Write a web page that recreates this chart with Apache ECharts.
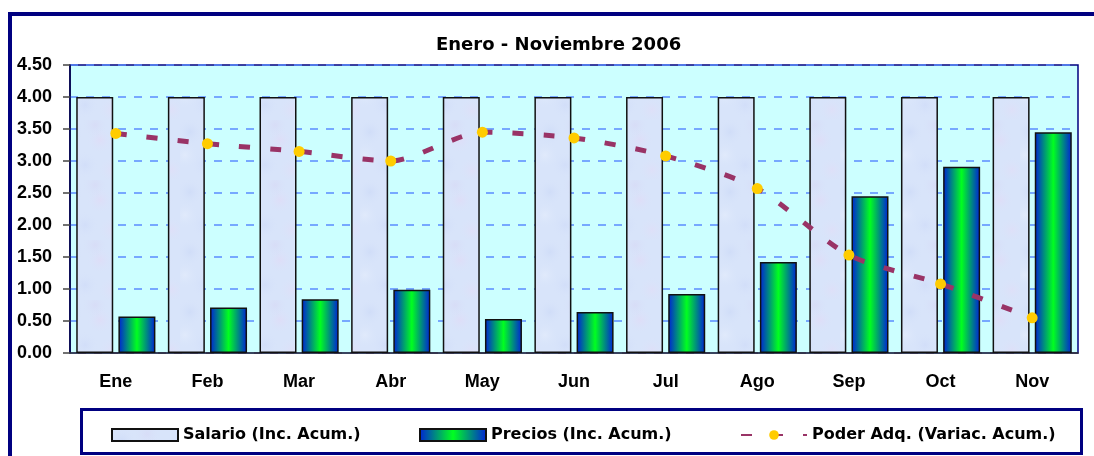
<!DOCTYPE html>
<html>
<head>
<meta charset="utf-8">
<script src="https://cdn.jsdelivr.net/npm/echarts@6/dist/echarts.min.js"></script>
<style>
  html, body { margin: 0; padding: 0; background: #fff; }
  #main { width: 1094px; height: 456px; }
</style>
</head>
<body>
<div id="main"></div>
<script>
var months = ['Ene', 'Feb', 'Mar', 'Abr', 'May', 'Jun', 'Jul', 'Ago', 'Sep', 'Oct', 'Nov'];
var salario = [4.00, 4.00, 4.00, 4.00, 4.00, 4.00, 4.00, 4.00, 4.00, 4.00, 4.00];
var precios = [0.57, 0.71, 0.84, 0.99, 0.53, 0.64, 0.92, 1.42, 2.45, 2.91, 3.45];
var poder = [3.43, 3.27, 3.15, 3.00, 3.45, 3.36, 3.08, 2.57, 1.53, 1.08, 0.55];

// textura clara para las barras de salario
var tex = document.createElement('canvas');
tex.width = 60; tex.height = 60;
var g = tex.getContext('2d');
g.fillStyle = '#D8E4FA';
g.fillRect(0, 0, 60, 60);
var blobs = [[10, 12, 'rgba(200,214,246,0.5)'], [40, 20, 'rgba(226,218,246,0.6)'],
             [25, 45, 'rgba(204,216,248,0.5)'], [52, 50, 'rgba(228,220,246,0.5)'],
             [5, 35, 'rgba(230,238,252,0.6)'], [35, 5, 'rgba(214,210,242,0.4)']];
blobs.forEach(function (b) {
  var rg = g.createRadialGradient(b[0], b[1], 0, b[0], b[1], 14);
  rg.addColorStop(0, b[2]);
  rg.addColorStop(1, 'rgba(216,228,250,0)');
  g.fillStyle = rg;
  g.fillRect(0, 0, 60, 60);
});

var preciosColor = new echarts.graphic.LinearGradient(0, 0, 1, 0, [
  {offset: 0, color: '#0020D8'},
  {offset: 0.5, color: '#00FF20'},
  {offset: 1, color: '#0020D8'}
]);

var axisFont = {fontFamily: 'Liberation Sans', fontWeight: 'bold', fontSize: 18, color: '#000'};
var legendText = {fontFamily: 'DejaVu Sans', fontWeight: 'bold', fontSize: 16, color: '#000'};

var chart = echarts.init(document.getElementById('main'));

chart.setOption({
  animation: false,
  backgroundColor: '#fff',
  title: {
    text: 'Enero - Noviembre 2006',
    left: 431,
    top: 31,
    textStyle: {fontFamily: 'DejaVu Sans', fontWeight: 'bold', fontSize: 18, color: '#000'}
  },
  graphic: [
    {type: 'rect', shape: {x: 10, y: 14, width: 1100, height: 460},
     style: {fill: null, stroke: '#000080', lineWidth: 4}, silent: true},
    {type: 'rect', shape: {x: 81.5, y: 409.5, width: 1000, height: 44},
     style: {fill: null, stroke: '#000080', lineWidth: 3}, silent: true}
  ],
  legend: [
    {data: [{name: 'Salario (Inc. Acum.)', icon: 'rect'}], left: 106, top: 422, itemWidth: 66, itemHeight: 12, itemGap: 5, textStyle: legendText},
    {data: [{name: 'Precios (Inc. Acum.)', icon: 'rect'}], left: 414, top: 422, itemWidth: 66, itemHeight: 12, textStyle: legendText},
    {data: ['Poder Adq. (Variac. Acum.)'], left: 735, top: 422, itemWidth: 66, itemHeight: 12, textStyle: legendText}
  ],
  grid: {
    left: 70, right: 16, top: 65, bottom: 103,
    show: true, backgroundColor: '#CCFFFF', borderColor: '#000080', borderWidth: 1.5
  },
  xAxis: {
    type: 'category',
    data: months,
    axisLine: {lineStyle: {color: '#333', width: 1.5}},
    axisTick: {length: 5, lineStyle: {color: '#555', width: 1.5}},
    axisLabel: Object.assign({margin: 20}, axisFont)
  },
  yAxis: {
    type: 'value',
    min: 0, max: 4.5, interval: 0.5,
    axisLine: {show: true, lineStyle: {color: '#000040', width: 1.5}},
    axisTick: {show: true, length: 7, lineStyle: {color: '#444', width: 1.5}},
    axisLabel: Object.assign({margin: 18, formatter: function (v) { return v.toFixed(2); }}, axisFont),
    splitLine: {lineStyle: {color: '#5A8CFF', width: 1.5, type: [8, 8]}}
  },
  series: [
    {
      name: 'Salario (Inc. Acum.)',
      type: 'bar',
      data: salario,
      barWidth: 37,
      barGap: '14%',
      itemStyle: {color: {image: tex, repeat: 'repeat'}, borderColor: '#111', borderWidth: 1.5}
    },
    {
      name: 'Precios (Inc. Acum.)',
      type: 'bar',
      data: precios,
      barWidth: 37,
      itemStyle: {color: preciosColor, borderColor: '#111', borderWidth: 1.5}
    },
    {
      name: 'Poder Adq. (Variac. Acum.)',
      type: 'line',
      data: poder,
      smooth: 0.25,
      z: 5,
      symbol: 'circle',
      symbolSize: 11,
      itemStyle: {color: '#FFCC00'},
      lineStyle: {color: '#993366', width: 5, type: [11, 20]}
    }
  ]
});
</script>
</body>
</html>
